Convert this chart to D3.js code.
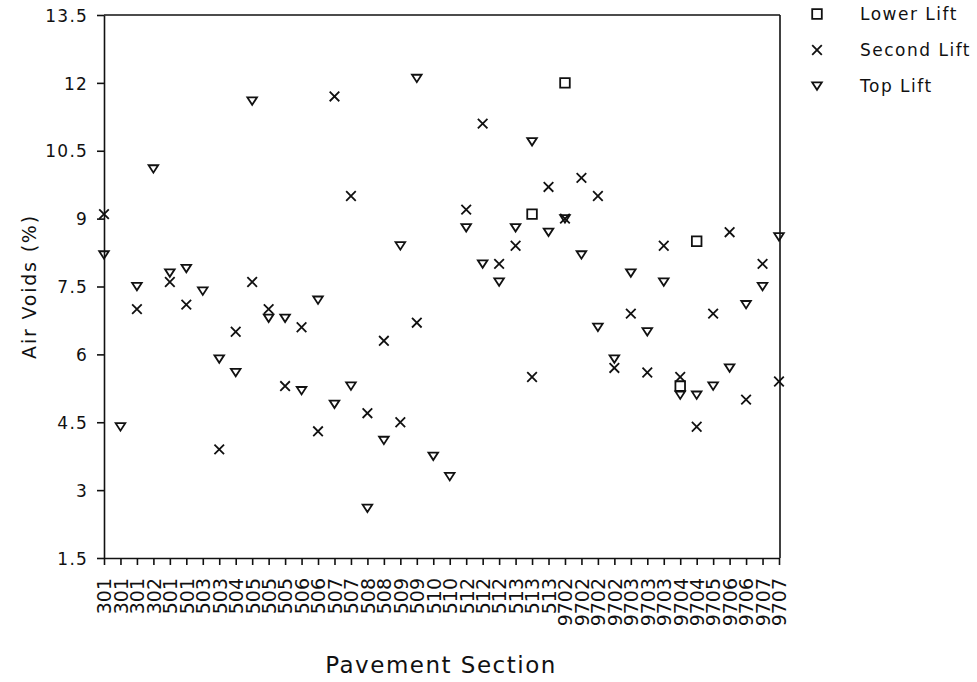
<!DOCTYPE html>
<html>
<head>
<meta charset="utf-8">
<script src="https://d3js.org/d3.v7.min.js"></script>
<style>
  body { margin: 0; background: #fff; }
  text { font-family: "DejaVu Sans", sans-serif; fill: #111; }
</style>
</head>
<body>
<script>
// pavement sections (one tick per core)
var sections = ["301","301","301","302","501","501","503","503","504","505","505","505",
  "506","506","507","507","508","508","509","509","510","510","512","512","512",
  "513","513","513","9702","9702","9702","9702","9703","9703","9703","9704","9704",
  "9705","9706","9706","9707","9707"];

// air voids (%) by lift, null = no core for that lift
var lowerLift = [null,null,null,null,null,null,null,null,null,null,null,null,
  null,null,null,null,null,null,null,null,null,null,null,null,null,
  null,9.1,null,12.0,null,null,null,null,null,null,5.3,8.5,
  null,null,null,null,null];
var secondLift = [9.1,null,7.0,null,7.6,7.1,null,3.9,6.5,7.6,7.0,5.3,
  6.6,4.3,11.7,9.5,4.7,6.3,4.5,6.7,null,null,9.2,11.1,8.0,
  8.4,5.5,9.7,9.0,9.9,9.5,5.7,6.9,5.6,8.4,5.5,4.4,
  6.9,8.7,5.0,8.0,5.4];
var topLift = [8.2,4.4,7.5,10.1,7.8,7.9,7.4,5.9,5.6,11.6,6.8,6.8,
  5.2,7.2,4.9,5.3,2.6,4.1,8.4,12.1,3.75,3.3,8.8,8.0,7.6,
  8.8,10.7,8.7,9.0,8.2,6.6,5.9,7.8,6.5,7.6,5.1,5.1,
  5.3,5.7,7.1,7.5,8.6];

var yTicks = [1.5, 3, 4.5, 6, 7.5, 9, 10.5, 12, 13.5];
var legendNames = ["Lower Lift", "Second Lift", "Top Lift"];

var width = 977, height = 682;
var svg = d3.select("body").append("svg").attr("width", width).attr("height", height);

var x = d3.scalePoint().domain(d3.range(sections.length)).range([104, 779]);
var y = d3.scaleLinear().domain([1.5, 13.5]).range([558, 15]);

// marker shapes
function square(s) { return "M" + (-s) + "," + (-s) + "H" + s + "V" + s + "H" + (-s) + "Z"; }
function cross(s) { return "M" + (-s) + "," + (-s) + "L" + s + "," + s + "M" + s + "," + (-s) + "L" + (-s) + "," + s; }
function tri(s) { return "M" + (-s) + "," + (-s * 0.75) + "H" + s + "L0," + (s * 0.8) + "Z"; }
var shapes = [square(4.8), cross(4.8), tri(4.8)];

// frame (top and right)
svg.append("line").attr("x1", x(0)).attr("x2", x(sections.length - 1) + 1)
  .attr("y1", y(13.5)).attr("y2", y(13.5)).attr("stroke", "#111").attr("stroke-width", 1.6);
svg.append("line").attr("x1", x(sections.length - 1) + 1).attr("x2", x(sections.length - 1) + 1)
  .attr("y1", y(13.5)).attr("y2", y(1.5)).attr("stroke", "#111").attr("stroke-width", 1.6);

// y axis
var gy = svg.append("g").attr("transform", "translate(" + x(0) + ",0)")
  .call(d3.axisLeft(y).tickValues(yTicks).tickFormat(d3.format("")).tickSize(7).tickPadding(9).tickSizeOuter(0));
gy.selectAll("text").style("font-size", "17px").style("letter-spacing", "1.2px").attr("dy", "0.36em");

// x axis
var gx = svg.append("g").attr("transform", "translate(0," + y(1.5) + ")")
  .call(d3.axisBottom(x).tickFormat(function(i) { return sections[i]; }).tickSize(7).tickSizeOuter(0));
gx.selectAll("text")
  .attr("y", 0).attr("x", -20).attr("dy", "0.36em")
  .attr("transform", "rotate(-90)")
  .style("text-anchor", "end")
  .style("font-size", "19px");

svg.selectAll(".domain, .tick line").attr("stroke", "#111").attr("stroke-width", 1.6);

// points
var series = [lowerLift, secondLift, topLift];
series.forEach(function(vals, k) {
  svg.append("g").selectAll("path")
    .data(vals.map(function(v, i) { return {i: i, v: v}; }).filter(function(d) { return d.v != null; }))
    .enter().append("path")
    .attr("transform", function(d) { return "translate(" + x(d.i) + "," + y(d.v) + ")"; })
    .attr("d", shapes[k])
    .attr("fill", "none")
    .attr("stroke", "#111")
    .attr("stroke-width", 1.8);
});

// axis titles
svg.append("text")
  .attr("transform", "translate(36," + y(7.5) + ") rotate(-90)")
  .attr("text-anchor", "middle")
  .style("font-size", "19px").style("letter-spacing", "1.8px")
  .text("Air Voids (%)");

svg.append("text")
  .attr("x", 441).attr("y", 673)
  .attr("text-anchor", "middle")
  .style("font-size", "23px").style("letter-spacing", "1.5px")
  .text("Pavement Section");

// legend
var lg = svg.append("g").selectAll("g").data(legendNames).enter().append("g")
  .attr("transform", function(d, i) { return "translate(817," + (14 + i * 36) + ")"; });
lg.append("path").attr("d", function(d, i) { return shapes[i]; })
  .attr("fill", "none").attr("stroke", "#111").attr("stroke-width", 1.8);
lg.append("text").attr("x", 43).attr("dy", "0.36em")
  .style("font-size", "17px").style("letter-spacing", "1.5px")
  .text(function(d) { return d; });
</script>
</body>
</html>
